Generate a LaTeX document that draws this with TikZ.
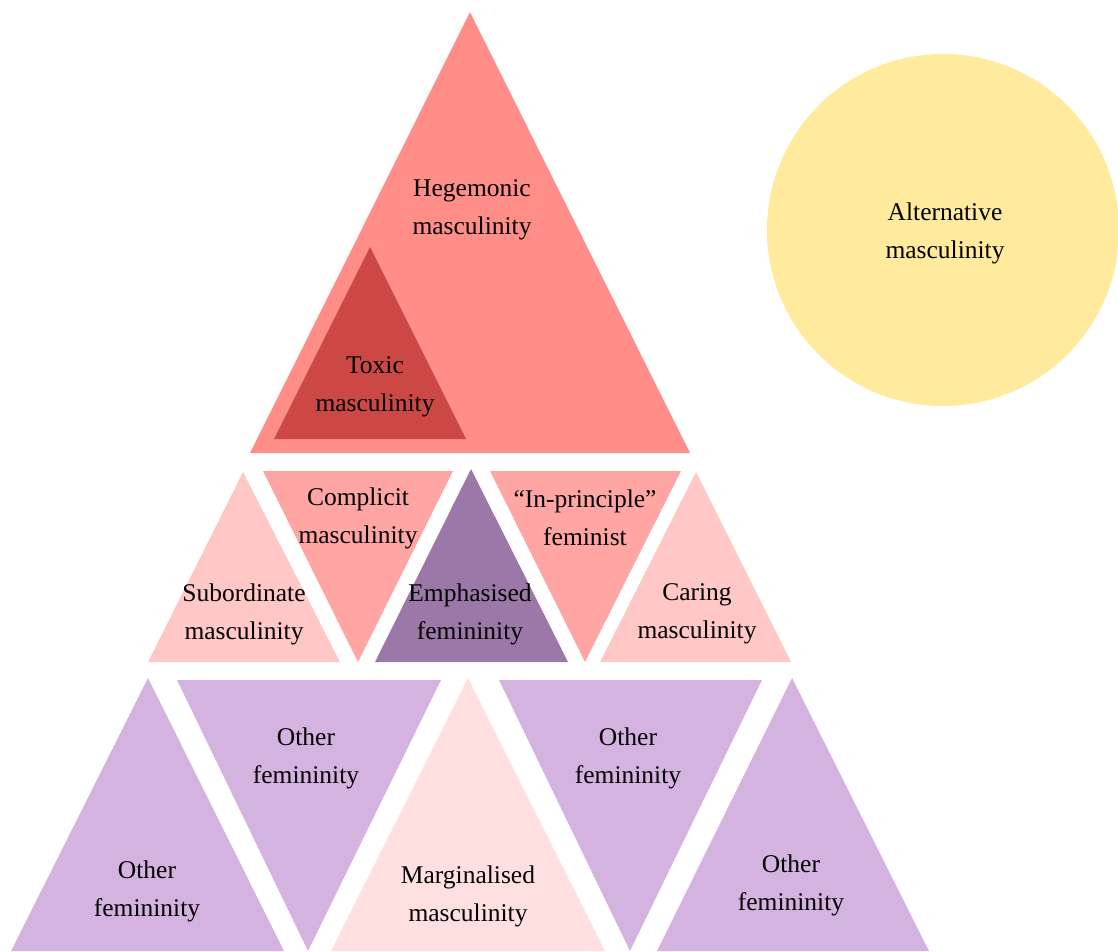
\documentclass[tikz,border=0pt]{standalone}
\usepackage{fontspec}
\setmainfont{Liberation Serif}
\definecolor{hegem}{HTML}{FF8E88}
\definecolor{toxic}{HTML}{CC4844}
\definecolor{altc}{HTML}{FFEA9E}
\definecolor{lightpink}{HTML}{FFC7C5}
\definecolor{midpink}{HTML}{FFA6A5}
\definecolor{emph}{HTML}{9C78A8}
\definecolor{otherfem}{HTML}{D5B3E0}
\definecolor{margin}{HTML}{FFE0E0}
\tikzset{
  lbl/.style={align=center, text=black, inner sep=0pt, yshift=-3pt, font=\fontsize{25.5}{38}\selectfont},
  tri/.style={draw=none}
}
\begin{document}
\begin{tikzpicture}[x=1pt,y=-1pt]
\useasboundingbox (0,0) rectangle (1118,951);
% top
\fill[hegem] (470,12) -- (690,453) -- (250,453) -- cycle;
\fill[toxic] (370,247) -- (466,439) -- (274,439) -- cycle;
\fill[altc] (943,230) circle (176);
% middle row
\fill[lightpink] (243,472) -- (340,662) -- (148,662) -- cycle;
\fill[midpink] (263,471) -- (453,471) -- (358,662) -- cycle;
\fill[emph] (471,469) -- (568,662) -- (375,662) -- cycle;
\fill[midpink] (490,471) -- (681,471) -- (585,662) -- cycle;
\fill[lightpink] (696,472) -- (791,662) -- (600,662) -- cycle;
% bottom row
\fill[otherfem] (148,678) -- (284,951) -- (11,951) -- cycle;
\fill[otherfem] (177,680) -- (441,680) -- (308,951) -- cycle;
\fill[margin] (468,678) -- (605,951) -- (331,951) -- cycle;
\fill[otherfem] (499,680) -- (762,680) -- (630,951) -- cycle;
\fill[otherfem] (792,678) -- (929,951) -- (657,951) -- cycle;
% labels
\node[lbl] (hegemonic) at (472,207) {Hegemonic\\masculinity};
\node[lbl] (toxicm) at (375,384) {Toxic\\masculinity};
\node[lbl] (alternative) at (945,230) {Alternative\\masculinity};
\node[lbl] (complicit) at (358,515) {Complicit\\masculinity};
\node[lbl] (inprinciple) at (585,515) {“In-principle”\\feminist};
\node[lbl] (subordinate) at (244,611) {Subordinate\\masculinity};
\node[lbl] (emphasised) at (470,611) {Emphasised\\femininity};
\node[lbl] (caring) at (697,611) {Caring\\masculinity};
\node[lbl] (other1) at (306,755) {Other\\femininity};
\node[lbl] (other2) at (628,755) {Other\\femininity};
\node[lbl] (other3) at (147,888) {Other\\femininity};
\node[lbl] (marginalised) at (468,893) {Marginalised\\masculinity};
\node[lbl] (other4) at (791,882) {Other\\femininity};
\end{tikzpicture}
\end{document}
